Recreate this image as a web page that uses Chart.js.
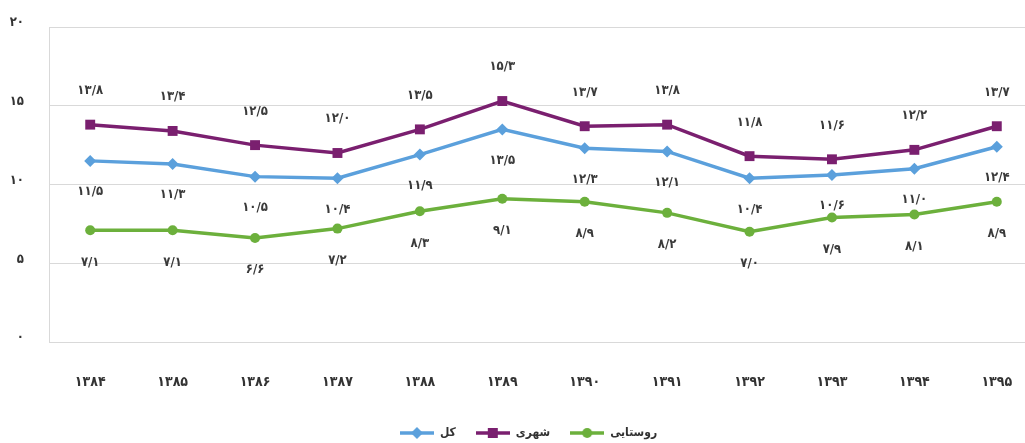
<!DOCTYPE html>
<html lang="fa">
<head>
<meta charset="utf-8">
<script src="https://cdn.jsdelivr.net/npm/chart.js@4"></script>
<style>
  html, body { margin: 0; padding: 0; background: #fff; overflow: hidden; }
  #wrap { width: 1045px; height: 443px; position: relative; }
</style>
</head>
<body>
<div id="wrap"><canvas id="c" width="1045" height="443"></canvas></div>
<script>
// ---- data ----
const categories = ['۱۳۸۴','۱۳۸۵','۱۳۸۶','۱۳۸۷','۱۳۸۸','۱۳۸۹','۱۳۹۰','۱۳۹۱','۱۳۹۲','۱۳۹۳','۱۳۹۴','۱۳۹۵'];
const seriesNames = ['کل', 'شهری', 'روستایی'];
const totalValues = [11.5, 11.3, 10.5, 10.4, 11.9, 13.5, 12.3, 12.1, 10.4, 10.6, 11.0, 12.4];
const urbanValues = [13.8, 13.4, 12.5, 12.0, 13.5, 15.3, 13.7, 13.8, 11.8, 11.6, 12.2, 13.7];
const ruralValues = [7.1, 7.1, 6.6, 7.2, 8.3, 9.1, 8.9, 8.2, 7.0, 7.9, 8.1, 8.9];
const yTickLabels = ['۰', '۵', '۱۰', '۱۵', '۲۰'];

const FONT = '"DejaVu Sans Condensed", "DejaVu Sans", sans-serif';
const colors = { total: '#5ba0dc', urban: '#7a1f6f', rural: '#6cb03c' };

const faDigits = '۰۱۲۳۴۵۶۷۸۹';
function toFa(v) {
  return v.toFixed(1).replace(/[0-9]/g, d => faDigits[+d]).replace('.', '/');
}

function legendIcon(color, style) {
  const cv = document.createElement('canvas');
  cv.width = 34; cv.height = 14;
  const g = cv.getContext('2d');
  g.strokeStyle = color; g.fillStyle = color; g.lineWidth = 3.5;
  g.beginPath(); g.moveTo(0, 7); g.lineTo(34, 7); g.stroke();
  g.beginPath();
  if (style === 'rect') g.rect(12, 2, 10, 10);
  else if (style === 'circle') g.arc(17, 7, 5, 0, Math.PI * 2);
  else { g.moveTo(17, 1); g.lineTo(23, 7); g.lineTo(17, 13); g.lineTo(11, 7); g.closePath(); }
  g.fill();
  return cv;
}

const labelOffsets = [31, -34, 32];

const dataLabelPlugin = {
  id: 'dataLabels',
  afterDatasetsDraw(chart) {
    const ctx = chart.ctx;
    ctx.save();
    ctx.font = 'bold 13px ' + FONT;
    ctx.fillStyle = '#3a3a3a';
    ctx.textAlign = 'center';
    ctx.textBaseline = 'middle';
    chart.data.datasets.forEach((ds, i) => {
      const meta = chart.getDatasetMeta(i);
      meta.data.forEach((pt, j) => {
        ctx.fillText(toFa(ds.data[j]), pt.x, pt.y + labelOffsets[i]);
      });
    });
    ctx.restore();
  }
};

const legendShift = {
  id: 'legendShift',
  afterLayout(chart) {
    const l = chart.legend;
    if (l) { l.top += 6; l.bottom += 6; l.left += 6; l.right += 6; }
  }
};

const icons = [legendIcon(colors.total, 'rectRot'), legendIcon(colors.urban, 'rect'), legendIcon(colors.rural, 'circle')];

new Chart(document.getElementById('c'), {
  type: 'line',
  data: {
    labels: categories,
    datasets: [
      { label: seriesNames[0], data: totalValues, borderColor: colors.total, backgroundColor: colors.total,
        borderWidth: 3.5, pointStyle: 'rectRot', pointRadius: 6, pointBorderWidth: 0, tension: 0 },
      { label: seriesNames[1], data: urbanValues, borderColor: colors.urban, backgroundColor: colors.urban,
        borderWidth: 3.5, pointStyle: 'rect', pointRadius: 7, pointBorderWidth: 0, tension: 0 },
      { label: seriesNames[2], data: ruralValues, borderColor: colors.rural, backgroundColor: colors.rural,
        borderWidth: 3.5, pointStyle: 'circle', pointRadius: 5, pointBorderWidth: 0, tension: 0 }
    ]
  },
  options: {
    responsive: false,
    animation: false,
    layout: { padding: { top: 27, left: 0, right: 0, bottom: 0 } },
    plugins: {
      tooltip: { enabled: false },
      legend: {
        position: 'bottom',
        labels: {
          usePointStyle: true,
          pointStyleWidth: 34,
          boxHeight: 13,
          padding: 20,
          color: '#333',
          font: { family: FONT, size: 12, weight: 'bold' },
          generateLabels(chart) {
            const items = Chart.defaults.plugins.legend.labels.generateLabels(chart);
            items.forEach((it, i) => { it.pointStyle = icons[i]; });
            return items;
          }
        }
      }
    },
    scales: {
      x: {
        offset: true,
        grid: { display: false, drawTicks: false },
        border: { display: true, color: '#d9d9d9', width: 1 },
        ticks: { padding: 32, color: '#333', font: { family: FONT, size: 14, weight: 'bold' } },
        afterFit(scale) { scale.height = 59; scale.paddingLeft = 0; scale.paddingRight = 0; }
      },
      y: {
        min: 0, max: 20,
        grid: { color: '#d9d9d9', lineWidth: 1, drawTicks: false },
        border: { display: true, color: '#d9d9d9', width: 1 },
        ticks: {
          stepSize: 5, padding: 25, labelOffset: -4, color: '#333',
          font: { family: FONT, size: 13, weight: 'bold' },
          callback: (v) => yTickLabels[v / 5]
        },
        afterFit(scale) { scale.width = 49; scale.paddingTop = 0; scale.paddingBottom = 0; }
      }
    }
  },
  plugins: [dataLabelPlugin, legendShift]
});
</script>
</body>
</html>
